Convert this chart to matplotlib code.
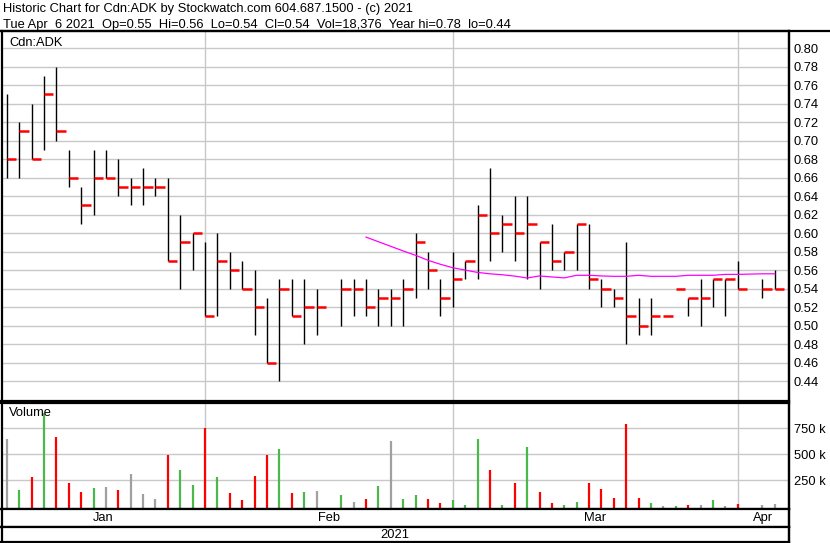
import numpy as np
import matplotlib
matplotlib.use('Agg')
import matplotlib.pyplot as plt
from matplotlib.lines import Line2D

plt.rcParams['font.family'] = ['Liberation Sans', 'DejaVu Sans']

nan = np.nan

# daily bars, one slot per trading day (nan = market holiday)
high = [0.75, 0.72, 0.74, 0.77, 0.78, 0.69, 0.65, 0.69, 0.69, 0.68,
        0.66, 0.67, 0.66, 0.66, 0.62, 0.60, 0.59, 0.60, 0.58, 0.57,
        0.56, 0.53, 0.55, 0.55, 0.55, 0.54, nan, 0.55, 0.55, 0.55,
        0.54, 0.54, 0.55, 0.60, 0.58, 0.55, 0.58, 0.57, 0.63, 0.67,
        0.62, 0.64, 0.64, 0.59, 0.61, 0.58, 0.61, 0.61, 0.55, 0.54,
        0.59, 0.53, 0.53, 0.51, 0.54, 0.53, 0.55, 0.55, 0.55, 0.57,
        nan, 0.55, 0.56]
low = [0.66, 0.66, 0.68, 0.69, 0.70, 0.65, 0.61, 0.62, 0.66, 0.64,
       0.63, 0.63, 0.64, 0.57, 0.54, 0.56, 0.51, 0.51, 0.54, 0.54,
       0.49, 0.46, 0.44, 0.51, 0.48, 0.49, nan, 0.50, 0.51, 0.51,
       0.50, 0.50, 0.50, 0.53, 0.54, 0.51, 0.52, 0.55, 0.55, 0.57,
       0.58, 0.57, 0.55, 0.54, 0.56, 0.56, 0.56, 0.54, 0.52, 0.52,
       0.48, 0.49, 0.49, 0.51, 0.54, 0.51, 0.50, 0.52, 0.51, 0.54,
       nan, 0.53, 0.54]
close = [0.68, 0.71, 0.68, 0.75, 0.71, 0.66, 0.63, 0.66, 0.66, 0.65,
         0.65, 0.65, 0.65, 0.57, 0.59, 0.60, 0.51, 0.57, 0.56, 0.54,
         0.52, 0.46, 0.54, 0.51, 0.52, 0.52, nan, 0.54, 0.54, 0.52,
         0.53, 0.53, 0.54, 0.59, 0.56, 0.53, 0.55, 0.57, 0.62, 0.60,
         0.61, 0.60, 0.61, 0.59, 0.57, 0.58, 0.61, 0.55, 0.54, 0.53,
         0.51, 0.50, 0.51, 0.51, 0.54, 0.53, 0.53, 0.55, 0.55, 0.54,
         nan, 0.54, 0.54]
volume = [647000, 157000, 282000, 895000, 666000, 224000, 138000, 176000, 186000, 157000,
          311000, 118000, 70000, 493000, 349000, 205000, 753000, 282000, 128000, 61000,
          291000, 493000, 551000, 128000, 138000, 147000, nan, 109000, 41000, 70000,
          195000, 628000, 70000, 109000, 70000, 32000, 61000, 12000, 647000, 349000,
          15000, 224000, 570000, 138000, 32000, 12000, 41000, 224000, 166000, 80000,
          791000, 80000, 32000, 6000, 6000, 14000, 9000, 61000, 6000, 20000,
          nan, 14000, 18376]
moving_avg = [nan] * 29 + [
    0.5957, 0.5907, 0.5857, 0.5807, 0.5760, 0.5706, 0.5663, 0.5626, 0.5600, 0.5575,
    0.5560, 0.5550, 0.5535, 0.5515, 0.5537, 0.5526, 0.5516, 0.5544, 0.5544, 0.5537,
    0.5533, 0.5533, 0.5544, 0.5533, 0.5533, 0.5533, 0.5544, 0.5544, 0.5544, 0.5554,
    0.5554, nan, 0.5560, 0.5560]

month_starts = [16, 36, 59]
month_labels = ['Jan', 'Feb', 'Mar', 'Apr']
year_label = '2021'
price_ticks = [round(0.44 + 0.02 * k, 2) for k in range(19)]
volume_ticks = [250000, 500000, 750000]

title1 = 'Historic Chart for Cdn:ADK by Stockwatch.com 604.687.1500 - (c) 2021'
title2 = 'Tue Apr  6 2021  Op=0.55  Hi=0.56  Lo=0.54  Cl=0.54  Vol=18,376  Year hi=0.78  lo=0.44'

W, H = 830, 543
FS = 9.25
GRID = '#c8c8c8'


def box(left, top, right, bottom):
    return [left / W, 1 - bottom / H, (right - left) / W, (bottom - top) / H]


def style_frame(ax):
    for s in ax.spines.values():
        s.set_linewidth(1.6)
        s.set_color('black')


fig = plt.figure(figsize=(W / 100, H / 100), dpi=100)
fig.patch.set_facecolor('white')

x = np.arange(len(close))
xlim = (-0.43, 63.14)
close_arr = np.array(close)
prev = np.concatenate([[nan], close_arr[:-1]])
# carry previous close across holidays
for i in range(1, len(prev)):
    if np.isnan(prev[i]):
        prev[i] = prev[i - 1]
colors = []
for c, p in zip(close_arr, prev):
    if np.isnan(p) or c == p:
        colors.append('#a0a0a0')
    elif c > p:
        colors.append('#4cb84c')
    else:
        colors.append('#ff0000')

# price panel
ax = fig.add_axes(box(1.5, 31, 789, 401))
ax.set_xlim(*xlim)
ax.set_ylim(0.4184, 0.8187)
ax.set_yticks(price_ticks)
ax.set_yticklabels(['%.2f' % t for t in price_ticks])
ax.yaxis.tick_right()
ax.tick_params(axis='y', length=0, pad=3.5, labelsize=FS)
ax.set_xticks([])
for t in price_ticks:
    ax.axhline(t, color=GRID, lw=1.0, zorder=0)
for m in month_starts:
    ax.axvline(m, color=GRID, lw=1.0, zorder=0)
ax.vlines(x, low, high, color='black', lw=1.0, zorder=2)
ax.hlines(close, x, x + 0.76, color='#ff0000', lw=1.8, zorder=3)
ma = np.array(moving_avg)
ok = ~np.isnan(ma)
ax.plot(x[ok], ma[ok], color='#ff00ff', lw=0.9, zorder=4)
style_frame(ax)

# volume panel
vax = fig.add_axes(box(1.5, 403, 789, 509))
vax.set_xlim(*xlim)
vax.set_ylim(-26000, 993000)
vax.set_yticks(volume_ticks)
vax.set_yticklabels(['%d k' % (v // 1000) for v in volume_ticks])
vax.yaxis.tick_right()
vax.tick_params(axis='y', length=0, pad=3.5, labelsize=FS)
vax.set_xticks([])
for t in volume_ticks:
    vax.axhline(t, color=GRID, lw=1.0, zorder=0)
for m in month_starts:
    vax.axvline(m, color=GRID, lw=1.0, zorder=0)
vol = np.array(volume)
vok = ~np.isnan(vol)
vax.vlines(x[vok], -26000, vol[vok], colors=[c for c, k in zip(colors, vok) if k],
           lw=1.6, zorder=2)
style_frame(vax)

# month row
max_ = fig.add_axes(box(1.5, 509, 789, 527))
max_.set_xlim(*xlim)
max_.set_ylim(0, 1)
max_.set_xticks([])
max_.set_yticks([])
edges = [xlim[0]] + month_starts + [xlim[1]]
for lab, a, b in zip(month_labels, edges[:-1], edges[1:]):
    max_.text((a + b) / 2, 0.5, lab, ha='center', va='center', fontsize=FS)
style_frame(max_)

# year row
yax = fig.add_axes(box(1.5, 527, 789, 542))
yax.set_xlim(*xlim)
yax.set_ylim(0, 1)
yax.set_xticks([])
yax.set_yticks([])
yax.text(sum(xlim) / 2, 0.45, year_label, ha='center', va='center', fontsize=FS)
style_frame(yax)

# full-width top rule and right edge rule
fig.add_artist(Line2D([0, 1], [1 - 31 / H, 1 - 31 / H], color='black', lw=1.6,
                      transform=fig.transFigure))
fig.add_artist(Line2D([789 / W, 789 / W], [0, 1 - 31 / H], color='black', lw=1.6,
                      transform=fig.transFigure))

fig.text(3 / W, 1 - 12 / H, title1, ha='left', va='baseline', fontsize=FS)
fig.text(3 / W, 1 - 28 / H, title2, ha='left', va='baseline', fontsize=FS)
fig.text(9 / W, 1 - 43 / H, 'Cdn:ADK', ha='left', va='center', fontsize=FS)
fig.text(9 / W, 1 - 413 / H, 'Volume', ha='left', va='center', fontsize=FS)

fig.savefig('out.png', dpi=100, facecolor='white')
